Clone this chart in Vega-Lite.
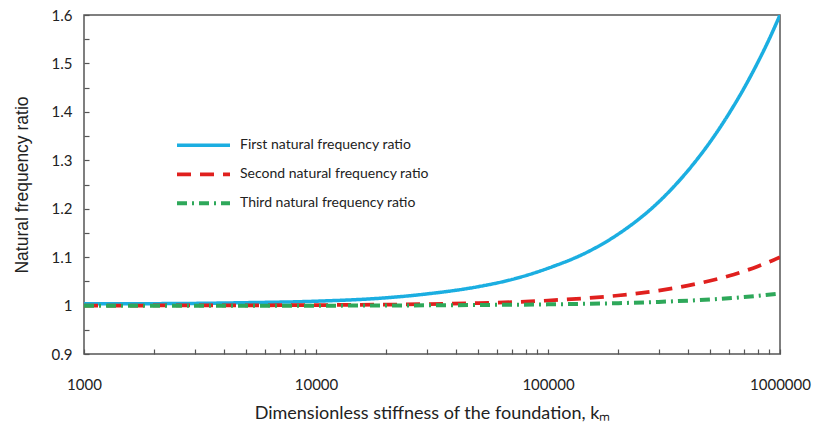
{
  "$schema": "https://vega.github.io/schema/vega-lite/v6.json",
  "width": 696,
  "height": 339,
  "autosize": {"type": "none"},
  "padding": {"left": 84, "top": 15, "right": 34, "bottom": 72},
  "background": "white",
  "config": {
    "view": {"stroke": "#555555", "strokeWidth": 1.5},
    "font": "Lato"
  },
  "data": {
    "values": [
      {"k": 1000, "ratio": 1.004, "series": "First natural frequency ratio"},
      {"k": 2000, "ratio": 1.004, "series": "First natural frequency ratio"},
      {"k": 5000, "ratio": 1.006, "series": "First natural frequency ratio"},
      {"k": 10000, "ratio": 1.009, "series": "First natural frequency ratio"},
      {"k": 20000, "ratio": 1.016, "series": "First natural frequency ratio"},
      {"k": 30000, "ratio": 1.024, "series": "First natural frequency ratio"},
      {"k": 50000, "ratio": 1.039, "series": "First natural frequency ratio"},
      {"k": 70000, "ratio": 1.054, "series": "First natural frequency ratio"},
      {"k": 100000, "ratio": 1.077, "series": "First natural frequency ratio"},
      {"k": 150000, "ratio": 1.112, "series": "First natural frequency ratio"},
      {"k": 200000, "ratio": 1.147, "series": "First natural frequency ratio"},
      {"k": 300000, "ratio": 1.214, "series": "First natural frequency ratio"},
      {"k": 400000, "ratio": 1.278, "series": "First natural frequency ratio"},
      {"k": 500000, "ratio": 1.338, "series": "First natural frequency ratio"},
      {"k": 600000, "ratio": 1.395, "series": "First natural frequency ratio"},
      {"k": 700000, "ratio": 1.449, "series": "First natural frequency ratio"},
      {"k": 800000, "ratio": 1.501, "series": "First natural frequency ratio"},
      {"k": 900000, "ratio": 1.551, "series": "First natural frequency ratio"},
      {"k": 1000000, "ratio": 1.6, "series": "First natural frequency ratio"},
      {"k": 1000, "ratio": 1.0, "series": "Second natural frequency ratio"},
      {"k": 10000, "ratio": 1.001, "series": "Second natural frequency ratio"},
      {"k": 30000, "ratio": 1.003, "series": "Second natural frequency ratio"},
      {"k": 50000, "ratio": 1.005, "series": "Second natural frequency ratio"},
      {"k": 100000, "ratio": 1.0104, "series": "Second natural frequency ratio"},
      {"k": 200000, "ratio": 1.0208, "series": "Second natural frequency ratio"},
      {"k": 300000, "ratio": 1.031, "series": "Second natural frequency ratio"},
      {"k": 400000, "ratio": 1.0411, "series": "Second natural frequency ratio"},
      {"k": 500000, "ratio": 1.0512, "series": "Second natural frequency ratio"},
      {"k": 600000, "ratio": 1.0611, "series": "Second natural frequency ratio"},
      {"k": 700000, "ratio": 1.071, "series": "Second natural frequency ratio"},
      {"k": 800000, "ratio": 1.0807, "series": "Second natural frequency ratio"},
      {"k": 900000, "ratio": 1.0904, "series": "Second natural frequency ratio"},
      {"k": 1000000, "ratio": 1.1, "series": "Second natural frequency ratio"},
      {"k": 1000, "ratio": 0.9995, "series": "Third natural frequency ratio"},
      {"k": 10000, "ratio": 0.9998, "series": "Third natural frequency ratio"},
      {"k": 50000, "ratio": 1.0012, "series": "Third natural frequency ratio"},
      {"k": 100000, "ratio": 1.0025, "series": "Third natural frequency ratio"},
      {"k": 200000, "ratio": 1.005, "series": "Third natural frequency ratio"},
      {"k": 300000, "ratio": 1.0076, "series": "Third natural frequency ratio"},
      {"k": 500000, "ratio": 1.0126, "series": "Third natural frequency ratio"},
      {"k": 700000, "ratio": 1.0176, "series": "Third natural frequency ratio"},
      {"k": 1000000, "ratio": 1.025, "series": "Third natural frequency ratio"}
    ]
  },
  "mark": {"type": "line", "interpolate": "monotone", "clip": true},
  "encoding": {
    "x": {
      "field": "k",
      "type": "quantitative",
      "scale": {"type": "log", "domain": [1000, 1000000], "nice": false},
      "axis": {
        "values": [1000, 2000, 3000, 4000, 5000, 6000, 7000, 8000, 9000, 10000, 20000, 30000, 40000, 50000, 60000, 70000, 80000, 90000, 100000, 200000, 300000, 400000, 500000, 600000, 700000, 800000, 900000, 1000000],
        "format": "d",
        "labelExpr": "indexof(['1000','10000','100000','1000000'], datum.label) >= 0 ? datum.label : ''",
        "title": "Dimensionless stiffness of the foundation, kₘ",
        "titleFont": "Lato",
        "titleFontSize": 18,
        "titleFontWeight": "normal",
        "titleColor": "#222222",
        "titlePadding": 12,
        "labelFont": "Lato",
        "labelFontSize": 15,
        "labelColor": "#222222",
        "labelPadding": 28,
        "labelFlush": false,
        "labelOverlap": false,
        "grid": false,
        "domain": false,
        "tickSize": -5,
        "tickColor": "#555555",
        "tickWidth": 1.2
      }
    },
    "y": {
      "field": "ratio",
      "type": "quantitative",
      "scale": {"domain": [0.9, 1.6], "nice": false, "zero": false},
      "axis": {
        "values": [0.9, 0.95, 1.0, 1.05, 1.1, 1.15, 1.2, 1.25, 1.3, 1.35, 1.4, 1.45, 1.5, 1.55, 1.6],
        "format": ".1~f",
        "labelExpr": "round(datum.value*100) % 10 == 0 ? datum.label : ''",
        "title": "Natural frequency ratio",
        "titleFont": "Liberation Sans",
        "titleFontSize": 17.5,
        "titleFontWeight": "normal",
        "titleColor": "#222222",
        "titlePadding": 20,
        "labelFont": "Lato",
        "labelFontSize": 15,
        "labelColor": "#222222",
        "labelPadding": 17,
        "labelOverlap": false,
        "grid": false,
        "domain": false,
        "tickSize": -5,
        "tickColor": "#555555",
        "tickWidth": 1.2
      }
    },
    "color": {
      "field": "series",
      "type": "nominal",
      "scale": {
        "domain": ["First natural frequency ratio", "Second natural frequency ratio", "Third natural frequency ratio"],
        "range": ["#1BAEE1", "#E0201E", "#2EA85A"]
      },
      "legend": {
        "orient": "none",
        "legendX": 91,
        "legendY": 116,
        "title": null,
        "symbolType": "stroke",
        "symbolSize": 2809,
        "symbolStrokeWidth": 3.5,
        "clipHeight": 28.5,
        "labelFont": "Lato",
        "labelFontSize": 14,
        "labelColor": "#222222",
        "labelOffset": 8,
        "rowPadding": 0,
        "labelLimit": 400
      }
    },
    "strokeDash": {
      "field": "series",
      "type": "nominal",
      "scale": {
        "domain": ["First natural frequency ratio", "Second natural frequency ratio", "Third natural frequency ratio"],
        "range": [[1, 0], [14, 9], [10, 5, 2, 5]]
      },
      "legend": null
    },
    "strokeWidth": {
      "field": "series",
      "type": "nominal",
      "scale": {
        "domain": ["First natural frequency ratio", "Second natural frequency ratio", "Third natural frequency ratio"],
        "range": [3.5, 4, 2.2]
      },
      "legend": null
    }
  }
}
